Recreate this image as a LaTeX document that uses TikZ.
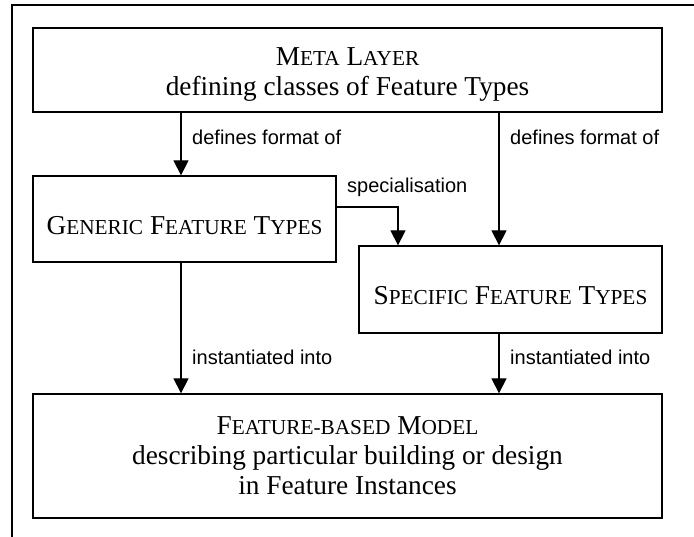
\documentclass[tikz,border=0pt]{standalone}
\usepackage{fontspec}
\setmainfont{Liberation Serif}
\newfontfamily\labelfont{Liberation Sans}
\usetikzlibrary{arrows.meta}
\newcommand\fsc[2]{#1{\fontsize{21.3}{21.3}\selectfont #2}}
\newcommand\lowerby[1]{\rule{0pt}{#1}}
\begin{document}
\begin{tikzpicture}[x=1pt,y=-1pt,
  box/.style={draw, line width=1.3pt, inner sep=0pt, align=center, font=\fontsize{27.3}{30}\selectfont},
  arr/.style={line width=1.3pt, -{Triangle[length=15pt,width=15pt]}},
  lab/.style={font=\labelfont\fontsize{20}{20}\selectfont, anchor=base west, inner sep=0pt}]
\useasboundingbox (0,0) rectangle (694,537);
\draw[line width=2pt] (12,537) -- (12,5.5) -- (694,5.5);
\node[box, minimum width=629pt, minimum height=84pt] (meta) at (347.5,70)
  {\lowerby{26pt}\fsc{M}{ETA} \fsc{L}{AYER}\\defining classes of Feature Types};
\node[box, minimum width=303pt, minimum height=86pt] (gen) at (184.5,219)
  {\lowerby{32pt}\fsc{G}{ENERIC} \fsc{F}{EATURE} \fsc{T}{YPES}};
\node[box, minimum width=303pt, minimum height=87pt] (spec) at (510.5,289.5)
  {\lowerby{31pt}\fsc{S}{PECIFIC} \fsc{F}{EATURE} \fsc{T}{YPES}};
\node[box, minimum width=629pt, minimum height=124pt] (bot) at (347.5,456)
  {\fsc{F}{EATURE-BASED} \fsc{M}{ODEL}\\describing particular building or design\\in Feature Instances};
\coordinate (xl) at (181,0);
\coordinate (xr) at (499,0);
\coordinate (sp) at (398,207);
\draw[arr] (meta.south -| xl) -- (gen.north -| xl);
\draw[arr] (meta.south -| xr) -- (spec.north -| xr);
\draw[arr] (gen.east |- sp) -| (spec.north -| sp);
\draw[arr] (gen.south -| xl) -- (bot.north -| xl);
\draw[arr] (spec.south -| xr) -- (bot.north -| xr);
\node[lab] (l1) at (192,145) {defines format of};
\node[lab] (l2) at (510,145) {defines format of};
\node[lab] (l3) at (347,193) {specialisation};
\node[lab] (l4) at (192,365) {instantiated into};
\node[lab] (l5) at (510,365) {instantiated into};
\end{tikzpicture}
\end{document}
